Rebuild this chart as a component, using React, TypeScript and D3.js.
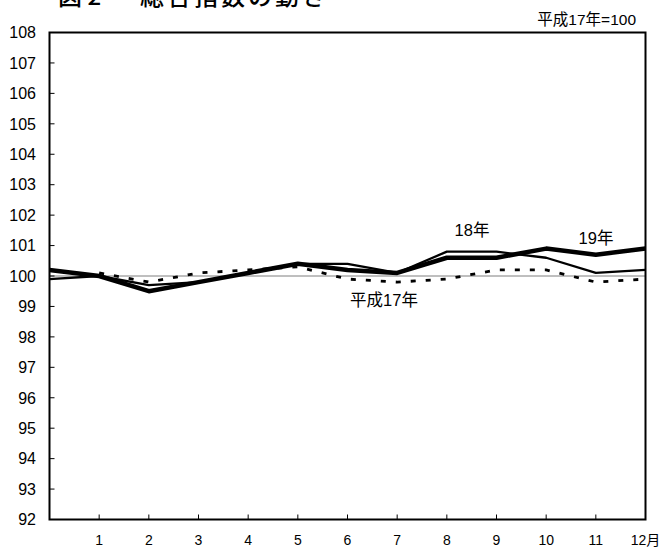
import React from "react";
import * as d3 from "d3";

const months = [0, 1, 2, 3, 4, 5, 6, 7, 8, 9, 10, 11, 12];
const xTickMonths = [1, 2, 3, 4, 5, 6, 7, 8, 9, 10, 11, 12];
const xTickLabels = ["1", "2", "3", "4", "5", "6", "7", "8", "9", "10", "11", "12月"];
const yTicks = [92, 93, 94, 95, 96, 97, 98, 99, 100, 101, 102, 103, 104, 105, 106, 107, 108];

// 平成17年 (months 1-12), 18年 and 19年 (months 0-12)
const h17: (number | null)[] = [null, 100.1, 99.8, 100.1, 100.2, 100.3, 99.9, 99.8, 99.9, 100.2, 100.2, 99.8, 99.9];
const h18: number[] = [99.9, 100.0, 99.7, 99.8, 100.1, 100.4, 100.4, 100.1, 100.8, 100.8, 100.6, 100.1, 100.2];
const h19: number[] = [100.2, 100.0, 99.5, 99.8, 100.1, 100.4, 100.2, 100.1, 100.6, 100.6, 100.9, 100.7, 100.9];

const W = 659;
const H = 547;
const left = 49.5;
const right = 645.5;
const top = 32.5;
const bottom = 519.5;

const FONT = "'Liberation Sans', Arial, 'Noto Sans CJK JP', sans-serif";
const CJK = "'Noto Sans CJK JP', 'Liberation Sans', sans-serif";

export default function App() {
  const x = d3.scaleLinear().domain([0, 12]).range([left, right]);
  const y = d3.scaleLinear().domain([92, 108]).range([bottom, top]);

  const line = d3
    .line<number | null>()
    .defined((d) => d !== null)
    .x((_, i) => x(months[i]))
    .y((d) => y(d as number));

  return (
    <svg
      width={W}
      height={H}
      style={{ position: "absolute", left: 0, top: 0, display: "block", background: "#fff" }}
    >
      <rect x={0} y={0} width={W} height={H} fill="#fff" />
      {/* title (cropped at the top, as in the reference) */}
      <text x={58} y={5} fontFamily={CJK} fontSize={24} fontWeight={500} fill="#000">
        図 2
      </text>
      <text x={140} y={5} fontFamily={CJK} fontSize={24} fontWeight={500} letterSpacing={3} fill="#000">
        総合指数の動き
      </text>
      <text x={636} y={25} textAnchor="end" fontFamily={FONT} fontSize={15.5} fill="#000">
        平成17年=100
      </text>

      {/* 100 reference line */}
      <line x1={left} x2={right} y1={y(100)} y2={y(100)} stroke="#7f7f7f" strokeWidth={1} />

      {/* series */}
      <path d={line(h17) || ""} fill="none" stroke="#000" strokeWidth={2.8} strokeDasharray="5,10" />
      <path d={line(h18) || ""} fill="none" stroke="#000" strokeWidth={2.3} strokeLinejoin="round" />
      <path d={line(h19) || ""} fill="none" stroke="#000" strokeWidth={4.5} strokeLinejoin="round" />

      {/* frame */}
      <rect x={left} y={top} width={right - left} height={bottom - top} fill="none" stroke="#000" strokeWidth={2} />

      {/* y ticks */}
      {yTicks.map((t) => (
        <g key={t}>
          <line x1={left} x2={left + 5} y1={y(t)} y2={y(t)} stroke="#000" strokeWidth={1} />
          <text x={36} y={y(t)} dy="0.36em" textAnchor="end" fontFamily={FONT} fontSize={16} fill="#000">
            {t}
          </text>
        </g>
      ))}

      {/* x ticks */}
      {xTickMonths.map((m, i) => (
        <g key={m}>
          {m < 12 && (
            <line x1={x(m)} x2={x(m)} y1={bottom} y2={bottom - 5} stroke="#000" strokeWidth={1} />
          )}
          <text x={x(m)} y={545} textAnchor="middle" fontFamily={FONT} fontSize={14} fill="#000">
            {xTickLabels[i]}
          </text>
        </g>
      ))}

      {/* series labels */}
      <text x={472} y={236} textAnchor="middle" fontFamily={FONT} fontSize={16.5} fill="#000">
        18年
      </text>
      <text x={596} y={244} textAnchor="middle" fontFamily={FONT} fontSize={16.5} fill="#000">
        19年
      </text>
      <text x={384} y={306} textAnchor="middle" fontFamily={FONT} fontSize={16.5} fill="#000">
        平成17年
      </text>
    </svg>
  );
}
